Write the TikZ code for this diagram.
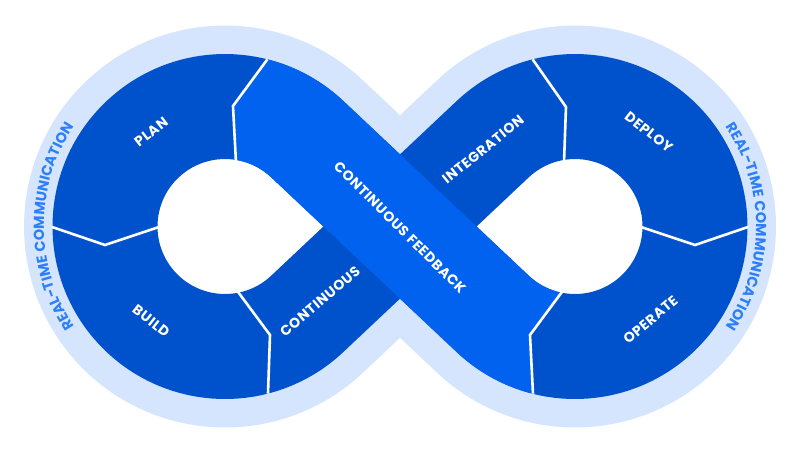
\documentclass[tikz,border=0pt]{standalone}
\usepackage{fontspec}
\setmainfont{Poppins}[LetterSpace=4]
\usetikzlibrary{decorations.text}
\definecolor{ringblue}{HTML}{0052CC}
\definecolor{feedblue}{HTML}{0062EE}
\definecolor{haloblue}{HTML}{D5E5FD}
\definecolor{textblue}{HTML}{2D7FF9}
\tikzset{lbl/.style={text=white,font=\bfseries\fontsize{14}{15}\selectfont},
  divider/.style={white,line width=2.6pt,line join=miter},
  rimtext/.style={decorate,decoration={text along path,text align=center,text color=textblue,
    text={|\bfseries\fontsize{14.5}{15}\selectfont|REAL-TIME COMMUNICATION}}}}
\begin{document}
\begin{tikzpicture}[x=1pt,y=1pt,line join=round]
\useasboundingbox (-400,-226.5) rectangle (400,226.5);
\coordinate (c1) at (-175,0);
\coordinate (c2) at (175,0);

% halo, white holes and ring
\draw [haloblue, line width=162pt] (-92.71,87.34) -- (92.71,-87.34) arc[start angle=226.7,end angle=493.3,radius=120] -- (-92.71,-87.34) arc[start angle=-46.7,end angle=-313.3,radius=120] -- cycle;
\fill [white] (-92.71,87.34) -- (92.71,-87.34) arc[start angle=226.7,end angle=493.3,radius=120] -- (-92.71,-87.34) arc[start angle=-46.7,end angle=-313.3,radius=120] -- cycle;
\draw [ringblue, line width=105pt] (-92.71,87.34) -- (92.71,-87.34) arc[start angle=226.7,end angle=493.3,radius=120] -- (-92.71,-87.34) arc[start angle=-46.7,end angle=-313.3,radius=120] -- cycle;

% feedback band on top
\begin{scope}
\clip (-110,300) -- (-110,230) -- (-133,166.5) -- (-167,120.5) -- (-164,66.5) -- (-164,-240) -- (134,-240) -- (133,-166.5) -- (130,-108.5) -- (163,-66.5) -- (250,300) -- cycle;
\draw [feedblue, line width=105pt] (-195.84,118.18) arc[start angle=100,end angle=46.7,radius=120] -- (92.71,-87.34) arc[start angle=226.7,end angle=285,radius=120];
\end{scope}

% dividers
\draw [divider] (-132.6,167.2) -- (-167,120.5) -- (-164,64);
\draw [divider] (132.6,167.2) -- (166,119.5) -- (164,64);
\draw [divider] (-163,-64) -- (-130,-108.5) -- (-132,-167.2);
\draw [divider] (163,-64) -- (130,-108.5) -- (133,-167.2);
\draw [divider] (-348,-0.5) -- (-295,-18.5) -- (-241,-0.5);
\draw [divider] (241,-0.5) -- (295,-18.5) -- (348,-0.5);

% labels
\node [lbl, rotate=38] (plan) at ([shift={(128:120)}]c1) {PLAN};
\node [lbl, rotate=-38] (build) at ([shift={(232:120)}]c1) {BUILD};
\node [lbl, rotate=-38] (deploy) at ([shift={(52:120)}]c2) {DEPLOY};
\node [lbl, rotate=40] (operate) at ([shift={(-51:120)}]c2) {OPERATE};
\node [lbl, rotate=40] (cont) at (-80,-75) {CONTINUOUS};
\node [lbl, rotate=39] (integ) at (83,77) {INTEGRATION};
\node [lbl, rotate=-45] (feedback) at (0,-1) {CONTINUOUS FEEDBACK};

% outer rim texts
\path [rimtext] ([shift={(216:181)}]c1) arc[start angle=216,end angle=144,radius=181];
\path [rimtext] ([shift={(36:181)}]c2) arc[start angle=36,end angle=-36,radius=181];
\end{tikzpicture}
\end{document}
